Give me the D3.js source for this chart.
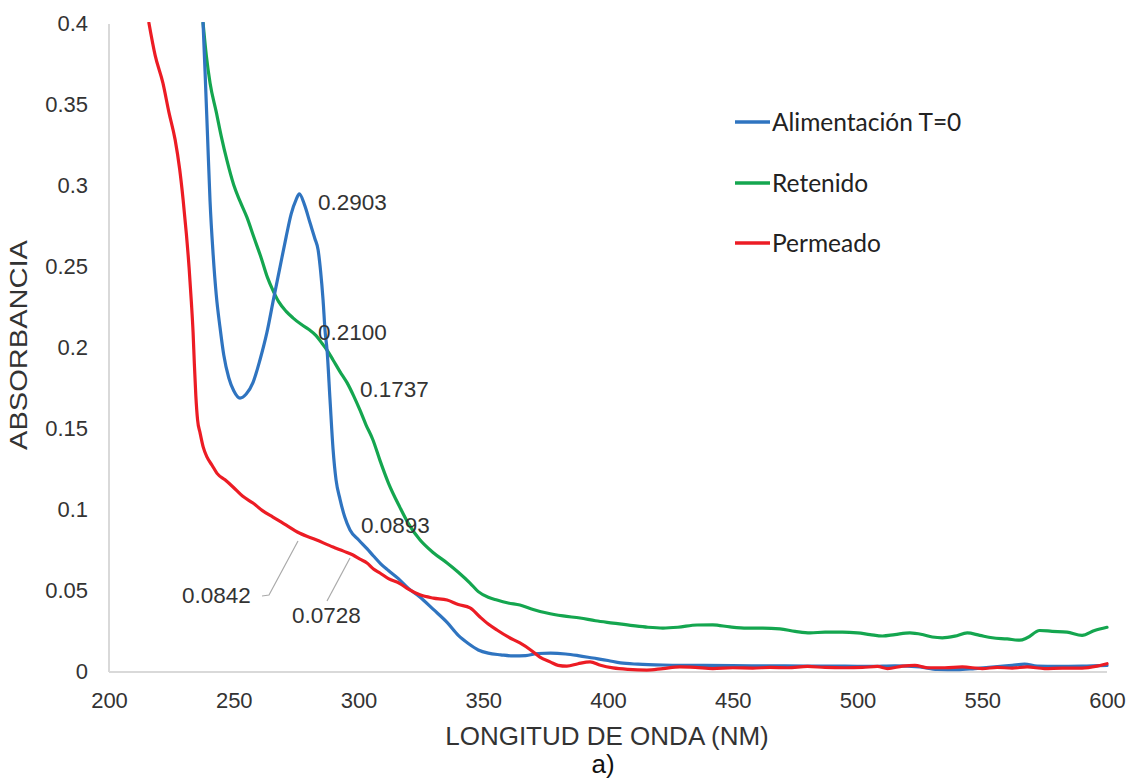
<!DOCTYPE html>
<html><head><meta charset="utf-8">
<script src="https://cdn.jsdelivr.net/npm/d3@7"></script>
<style>body{margin:0;background:#fff}svg{display:block}</style>
</head><body><svg id="c" width="1133" height="782"></svg>
<script>
const xTicks = [200,250,300,350,400,450,500,550,600];
const yTicks = [0,0.05,0.1,0.15,0.2,0.25,0.3,0.35,0.4];
const yTickLabels = ["0","0.05","0.1","0.15","0.2","0.25","0.3","0.35","0.4"];
const seriesNames = ["Alimentación T=0","Retenido","Permeado"];
const seriesColors = ["#2f74c0","#14a64f","#ec1c24"];

const alimentacion = [[237.7,0.40],[238.5,0.37],[239.5,0.33],[240.5,0.29],[241.7,0.258],[243,0.232],[244.5,0.212],[246,0.195],[248,0.181],[250,0.173],[252.5,0.1685],[255,0.171],[257.7,0.178],[260.5,0.192],[263.3,0.209],[266,0.23],[268.5,0.249],[271,0.268],[273,0.282],[275,0.291],[276.3,0.2945],[278.3,0.288],[280.6,0.2765],[282.5,0.267],[283.8,0.26],[284.8,0.247],[285.8,0.229],[286.6,0.21],[287.4,0.198],[288.6,0.167],[289.8,0.137],[291,0.118],[292.6,0.106],[294.5,0.095],[296.6,0.087],[300,0.081],[303.4,0.0755],[306,0.071],[309,0.066],[312,0.062],[316,0.057],[320,0.051],[324.6,0.0457],[330,0.038],[335.5,0.030],[340,0.022],[344,0.017],[348,0.013],[352,0.011],[357,0.010],[362,0.0093],[367,0.0095],[372,0.0108],[377,0.011],[383,0.0105],[388,0.0095],[394,0.008],[400,0.0065],[405,0.005],[412,0.0042],[422,0.0037],[435,0.0035],[450,0.0033],[465,0.0032],[480,0.003],[495,0.003],[505,0.0028],[515,0.0032],[525,0.0025],[532,0.001],[540,0.0008],[547,0.0015],[555,0.0025],[562,0.0035],[567,0.0042],[572,0.003],[580,0.0028],[590,0.003],[600,0.0035]];

const retenido = [[237.7,0.40],[239,0.38],[240.5,0.363],[243,0.345],[245,0.33],[247.3,0.315],[250,0.30],[252.5,0.29],[255.3,0.28],[258,0.268],[261,0.255],[263.5,0.243],[265.7,0.235],[268,0.228],[271,0.222],[273.7,0.218],[277,0.214],[280,0.211],[283,0.207],[285.5,0.202],[287.4,0.198],[289.8,0.192],[292.5,0.185],[295.4,0.178],[298,0.17],[300.6,0.161],[303,0.152],[305.8,0.1426],[308.6,0.13],[312,0.116],[316.6,0.101],[320,0.091],[324.6,0.081],[330,0.073],[335.5,0.0667],[340,0.061],[344.7,0.0543],[348,0.049],[352,0.0455],[355.5,0.0438],[360,0.042],[364.7,0.0407],[370,0.038],[375.5,0.0358],[382,0.034],[388.8,0.0327],[395,0.031],[402,0.0296],[410,0.028],[416,0.027],[422,0.0265],[428,0.027],[435.7,0.0284],[442,0.0285],[448.9,0.0272],[455.7,0.0265],[462,0.0265],[468.9,0.026],[475,0.0245],[481,0.0235],[487,0.024],[494,0.024],[500,0.0235],[505,0.0225],[510,0.0216],[515,0.0225],[521,0.0235],[526,0.0225],[530,0.021],[534,0.0205],[539,0.0215],[544,0.0235],[549,0.022],[554,0.0205],[560,0.0198],[565,0.019],[568,0.0205],[573,0.025],[578,0.0245],[584,0.024],[590,0.022],[595,0.025],[600,0.027]];

const permeado = [[216,0.40],[218.5,0.38],[221.6,0.363],[224,0.345],[226.5,0.328],[228.3,0.31],[229.7,0.291],[231,0.27],[232.1,0.249],[233,0.228],[233.7,0.209],[234.2,0.19],[234.8,0.17],[235.5,0.155],[236.5,0.147],[237.8,0.138],[239.3,0.132],[241.3,0.127],[243.3,0.122],[246.5,0.118],[249.7,0.1136],[253.5,0.108],[257.7,0.1037],[261.5,0.099],[265.7,0.095],[270,0.091],[276.5,0.085],[283,0.081],[289.8,0.0765],[294,0.074],[297.8,0.0716],[300.6,0.069],[303.4,0.0667],[306,0.063],[308.6,0.0605],[312,0.057],[316.6,0.054],[320,0.0505],[324.6,0.047],[330,0.045],[335.5,0.0438],[340,0.041],[344.7,0.039],[348.7,0.0333],[352,0.029],[355.5,0.0253],[360,0.021],[364.7,0.0173],[369,0.013],[372.7,0.0086],[377,0.0055],[380,0.0035],[383.5,0.003],[388,0.0045],[392.8,0.0056],[397,0.0035],[402,0.0019],[408,0.001],[415.6,0.0006],[422,0.0015],[428.8,0.0025],[435,0.0022],[442,0.0015],[450,0.002],[458,0.0018],[465,0.0022],[472,0.002],[480,0.0028],[487,0.0022],[495,0.002],[502,0.0022],[508,0.0028],[512,0.0015],[518,0.003],[523,0.0035],[528,0.002],[535,0.002],[542,0.0025],[550,0.0015],[556,0.0022],[562,0.0018],[568,0.0025],[575,0.0015],[582,0.0018],[590,0.0018],[596,0.003],[600,0.0045]];

const labelTexts = ["0.2903","0.2100","0.1737","0.0893","0.0842","0.0728"];

const svg = d3.select("#c");
const x = d3.scaleLinear().domain([200,600]).range([109,1107]);
const y = d3.scaleLinear().domain([0,0.4]).range([671,23]);

svg.append("defs").append("clipPath").attr("id","clip")
  .append("rect").attr("x",109).attr("y",22).attr("width",1000).attr("height",650);

svg.append("line").attr("x1",x(200)).attr("x2",x(200)).attr("y1",y(0.4)+1).attr("y2",y(0)+1)
  .attr("stroke","#d9d9d9").attr("stroke-width",2);
svg.append("line").attr("x1",x(200)).attr("x2",x(600)).attr("y1",y(0)+1).attr("y2",y(0)+1)
  .attr("stroke","#d9d9d9").attr("stroke-width",2);

const font = "'Liberation Sans', Arial, sans-serif";
const yAxis = d3.axisLeft(y).tickValues(yTicks).tickSize(0).tickPadding(0)
  .tickFormat((d,i)=>yTickLabels[i]);
const gy = svg.append("g").attr("transform","translate(88,0)").call(yAxis);
gy.select(".domain").remove();
gy.selectAll("text").attr("font-family",font).attr("font-size",22).attr("fill","#333").attr("dy","0.35em");

const xAxis = d3.axisBottom(x).tickValues(xTicks).tickSize(0).tickPadding(0).tickFormat(d3.format("d"));
const gx = svg.append("g").attr("transform","translate(0,708)").call(xAxis);
gx.select(".domain").remove();
gx.selectAll("text").attr("font-family",font).attr("font-size",22).attr("fill","#333").attr("dy","0");

const line = d3.line().x(d=>x(d[0])).y(d=>y(d[1])).curve(d3.curveMonotoneX);
const data = [alimentacion, retenido, permeado];
const order = [1,0,2];
const gl = svg.append("g").attr("clip-path","url(#clip)");
order.forEach(i=>{
  gl.append("path").datum(data[i]).attr("d",line).attr("fill","none")
    .attr("stroke",seriesColors[i]).attr("stroke-width",3.2).attr("stroke-linejoin","round").attr("stroke-linecap","round");
});

const leaderLine = d3.line();
svg.append("path").attr("d",leaderLine([[262,596],[269,595],[298,541]])).attr("fill","none").attr("stroke","#aaa").attr("stroke-width",1.2);
svg.append("path").attr("d",leaderLine([[327,601],[350,558]])).attr("fill","none").attr("stroke","#aaa").attr("stroke-width",1.2);

const labelPos = [[318,210],[318,340],[360,397],[361,533],[182,603],[292,623]];
labelTexts.forEach((t,i)=>{
  svg.append("text").attr("x",labelPos[i][0]).attr("y",labelPos[i][1]).text(t)
    .attr("font-family",font).attr("font-size",22.5).attr("fill","#333");
});

svg.append("text").attr("x",607).attr("y",745).attr("text-anchor","middle")
  .attr("font-family",font).attr("font-size",26).attr("fill","#333").text("LONGITUD DE ONDA (NM)");
svg.append("text").attr("transform","translate(27,345) rotate(-90)").attr("text-anchor","middle")
  .attr("font-family",font).attr("font-size",24).attr("fill","#333")
  .attr("textLength",210).attr("lengthAdjust","spacingAndGlyphs").text("ABSORBANCIA");
svg.append("text").attr("x",603).attr("y",773).attr("text-anchor","middle")
  .attr("font-family",font).attr("font-size",26).attr("fill","#111").text("a)");

const legY = [122,183,243];
seriesNames.forEach((n,i)=>{
  svg.append("line").attr("x1",735).attr("x2",770).attr("y1",legY[i]).attr("y2",legY[i])
    .attr("stroke",seriesColors[i]).attr("stroke-width",3.5);
  svg.append("text").attr("x",772).attr("y",legY[i]).attr("dy","0.35em").text(n)
    .attr("font-family","Lato, 'Open Sans', sans-serif").attr("font-size",24.5).attr("fill","#222");
});
</script></body></html>
